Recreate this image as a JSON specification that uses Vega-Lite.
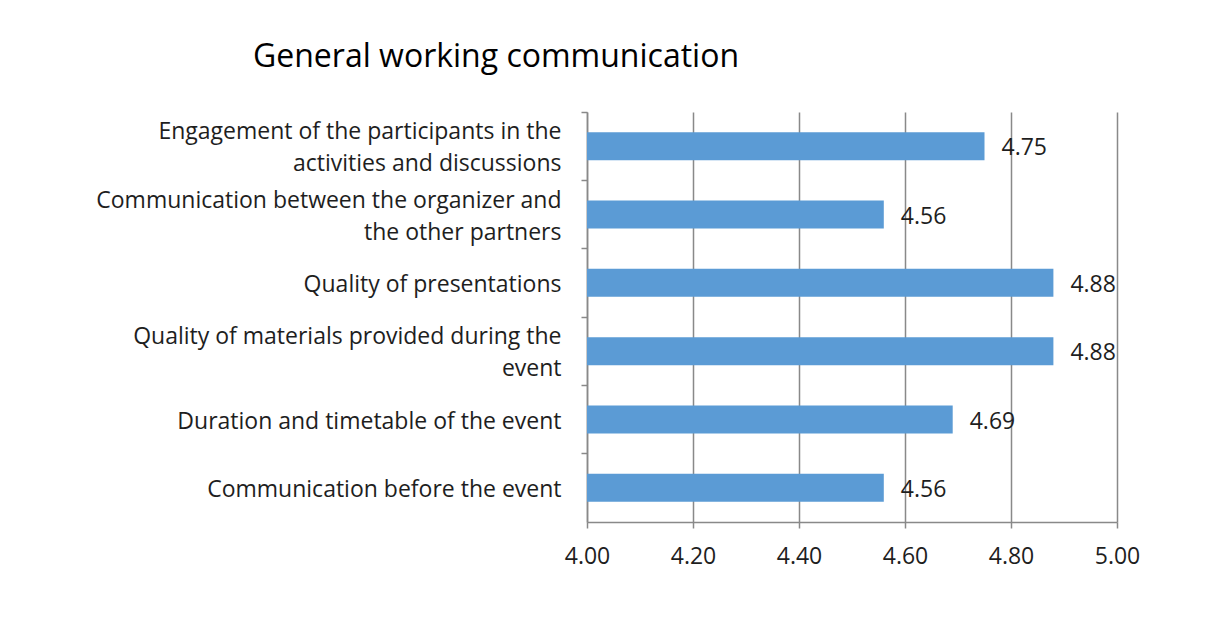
{
  "$schema": "https://vega.github.io/schema/vega-lite/v6.json",
  "autosize": "none",
  "width": 530,
  "height": 410,
  "padding": {"left": 587, "top": 112, "right": 114, "bottom": 115},
  "background": "white",
  "title": {
    "text": "General working communication",
    "anchor": "start",
    "frame": "group",
    "dx": -334,
    "offset": 37,
    "fontSize": 32,
    "font": "Open Sans",
    "fontWeight": "normal",
    "color": "#000000"
  },
  "data": {
    "values": [
      {"item": "Engagement of the participants in the activities and discussions", "score": 4.75},
      {"item": "Communication between the organizer and the other partners", "score": 4.56},
      {"item": "Quality of presentations", "score": 4.88},
      {"item": "Quality of materials provided during the event", "score": 4.88},
      {"item": "Duration and timetable of the event", "score": 4.69},
      {"item": "Communication before the event", "score": 4.56}
    ]
  },
  "encoding": {
    "y": {
      "field": "item",
      "type": "nominal",
      "sort": null,
      "scale": {"paddingInner": 0, "paddingOuter": 0},
      "axis": {
        "title": null,
        "bandPosition": 0,
        "grid": false,
        "domainColor": "#898989",
        "domainWidth": 1.5,
        "tickColor": "#898989",
        "tickWidth": 1.5,
        "tickSize": 6,
        "labelPadding": 20,
        "labelFont": "Open Sans",
        "labelFontSize": 23,
        "labelColor": "#1e1e1e",
        "labelLineHeight": 32,
        "labelLimit": 600,
        "labelOffset": {"condition": {"test": "length(datum.value) > 40", "value": -14}, "value": 2},
        "labelExpr": "datum.value == 'Engagement of the participants in the activities and discussions' ? ['Engagement of the participants in the', 'activities and discussions'] : datum.value == 'Communication between the organizer and the other partners' ? ['Communication between the organizer and', 'the other partners'] : datum.value == 'Quality of materials provided during the event' ? ['Quality of materials provided during the', 'event'] : datum.value"
      }
    }
  },
  "layer": [
    {
      "mark": {"type": "bar", "color": "#5B9BD5", "height": {"band": 0.41}},
      "encoding": {
        "x": {
          "field": "score",
          "type": "quantitative",
          "scale": {"domain": [4, 5], "zero": false, "nice": false},
          "axis": {
            "title": null,
            "values": [4, 4.2, 4.4, 4.6, 4.8, 5],
            "format": ".2f",
            "grid": true,
            "gridColor": "#898989",
            "gridWidth": 1.5,
            "domainColor": "#898989",
            "domainWidth": 1.5,
            "tickColor": "#898989",
            "tickWidth": 1.5,
            "tickSize": 6,
            "labelPadding": 17,
            "labelFlush": false,
            "labelFont": "Open Sans",
            "labelFontSize": 23,
            "labelColor": "#1e1e1e"
          }
        },
        "x2": {"datum": 4}
      }
    },
    {
      "mark": {"type": "text", "align": "left", "baseline": "middle", "dx": 17, "dy": 2, "fontSize": 23, "font": "Open Sans", "color": "#1e1e1e"},
      "encoding": {
        "x": {"field": "score", "type": "quantitative"},
        "text": {"field": "score", "type": "quantitative", "format": ".2f"}
      }
    }
  ],
  "config": {"view": {"stroke": null}}
}
